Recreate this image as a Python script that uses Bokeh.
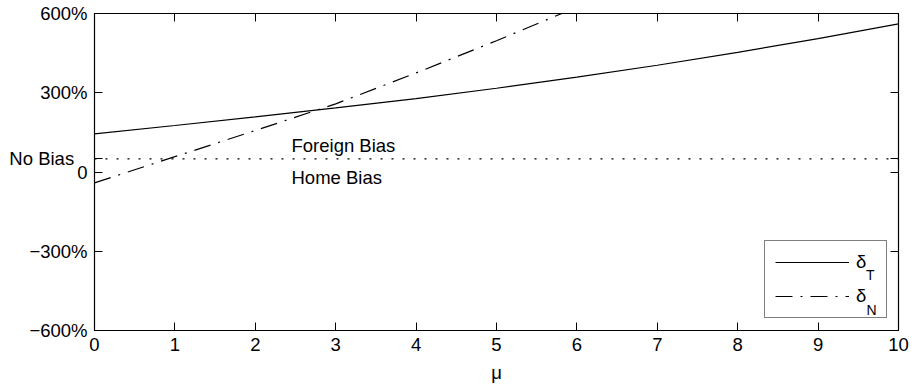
from bokeh.plotting import figure
from bokeh.models import (Range1d, LinearAxis, FixedTicker, Span, Label,
                          Legend, LegendItem)
from bokeh.embed import file_html
from bokeh.resources import INLINE

# ---- data ----
mu = [0, 1, 2, 3, 4, 5, 6, 7, 8, 9, 10]
delta_T = [144, 176, 209, 243, 278, 317, 359, 404, 453, 505, 561]
mu_N = [0, 1, 2, 3, 4, 5, 6]
delta_N = [-41, 58, 157, 258, 375, 497, 624]
no_bias_level = 50

x_ticks = [0, 1, 2, 3, 4, 5, 6, 7, 8, 9, 10]
y_ticks = [-600, -300, 0, 50, 300, 600]
y_tick_labels = {-600: "\u2212600%", -300: "\u2212300%", 0: "0",
                 50: "No Bias\u00a0\u00a0\u2006",
                 300: "300%", 600: "600%"}

FONT = "Liberation Sans"
FS = "18.5px"
SUB_FS = "14px"

p = figure(frame_width=804, frame_height=317,
           x_range=Range1d(0, 10), y_range=Range1d(-600, 600),
           output_backend="svg", toolbar_location=None,
           min_border_left=94, min_border_top=13, min_border_right=12,
           min_border_bottom=58, x_axis_label="\u03bc")
p.title.visible = False
p.xgrid.visible = False
p.ygrid.visible = False
p.outline_line_color = "black"
p.background_fill_color = "white"
p.border_fill_color = "white"


def style_axis(ax, ticks, show_labels):
    ax.ticker = FixedTicker(ticks=ticks)
    ax.major_tick_in = 8
    ax.major_tick_out = 0
    ax.minor_tick_line_color = None
    ax.axis_line_color = "black"
    ax.axis_line_width = 1.2
    ax.major_tick_line_color = "black"
    ax.major_tick_line_width = 1
    ax.major_label_text_font = FONT
    ax.major_label_text_color = "black"
    ax.major_label_text_font_size = FS
    if not show_labels:
        ax.major_label_overrides = {t: "" for t in ticks}
        ax.major_label_standoff = 0


style_axis(p.xaxis[0], x_ticks, True)
p.xaxis[0].major_label_standoff = 7
p.xaxis[0].axis_label_text_font = FONT
p.xaxis[0].axis_label_text_font_size = FS
p.xaxis[0].axis_label_text_font_style = "normal"
p.xaxis[0].axis_label_standoff = 8
p.xaxis[0].axis_label_text_color = "black"

style_axis(p.yaxis[0], y_ticks, True)
p.yaxis[0].major_label_overrides = y_tick_labels
p.yaxis[0].major_label_standoff = 7

top_axis = LinearAxis()
style_axis(top_axis, x_ticks, False)
p.add_layout(top_axis, "above")
right_axis = LinearAxis()
style_axis(right_axis, y_ticks, False)
p.add_layout(right_axis, "right")

# ---- reference line ----
p.add_layout(Span(location=no_bias_level, dimension="width",
                  line_color="black", line_width=1.3, line_dash="2 9"))

# ---- curves ----
rT = p.line(mu, delta_T, line_color="black", line_width=1.2)
rN = p.line(mu_N, delta_N, line_color="black", line_width=1.2,
            line_dash="17 8 2 8")

# ---- texts ----
p.add_layout(Label(x=2.45, y=100, text="Foreign Bias", text_font=FONT,
                   text_font_size=FS, text_color="black",
                   text_baseline="alphabetic"))
p.add_layout(Label(x=2.45, y=-20, text="Home Bias", text_font=FONT,
                   text_font_size=FS, text_color="black",
                   text_baseline="alphabetic"))

# ---- legend ----
legend = Legend(items=[LegendItem(label="\u03b4", renderers=[rT]),
                       LegendItem(label="\u03b4", renderers=[rN])],
                location=(670, 12), border_line_color="black",
                border_line_width=1.2, padding=10, spacing=12,
                glyph_width=74, glyph_height=20, label_standoff=7,
                label_width=20, label_height=20, margin=0,
                label_text_font=FONT, label_text_font_size=FS,
                label_text_color="black", background_fill_alpha=0)
p.add_layout(legend)
p.add_layout(Label(x=771.5, y=56, x_units="screen", y_units="screen",
                   text="T", text_font=FONT, text_font_size=SUB_FS,
                   text_color="black", text_baseline="alphabetic",
                   level="overlay"))
p.add_layout(Label(x=772, y=20.5, x_units="screen", y_units="screen",
                   text="N", text_font=FONT, text_font_size=SUB_FS,
                   text_color="black", text_baseline="alphabetic",
                   level="overlay"))

open("out.html", "w").write(file_html(p, INLINE))
